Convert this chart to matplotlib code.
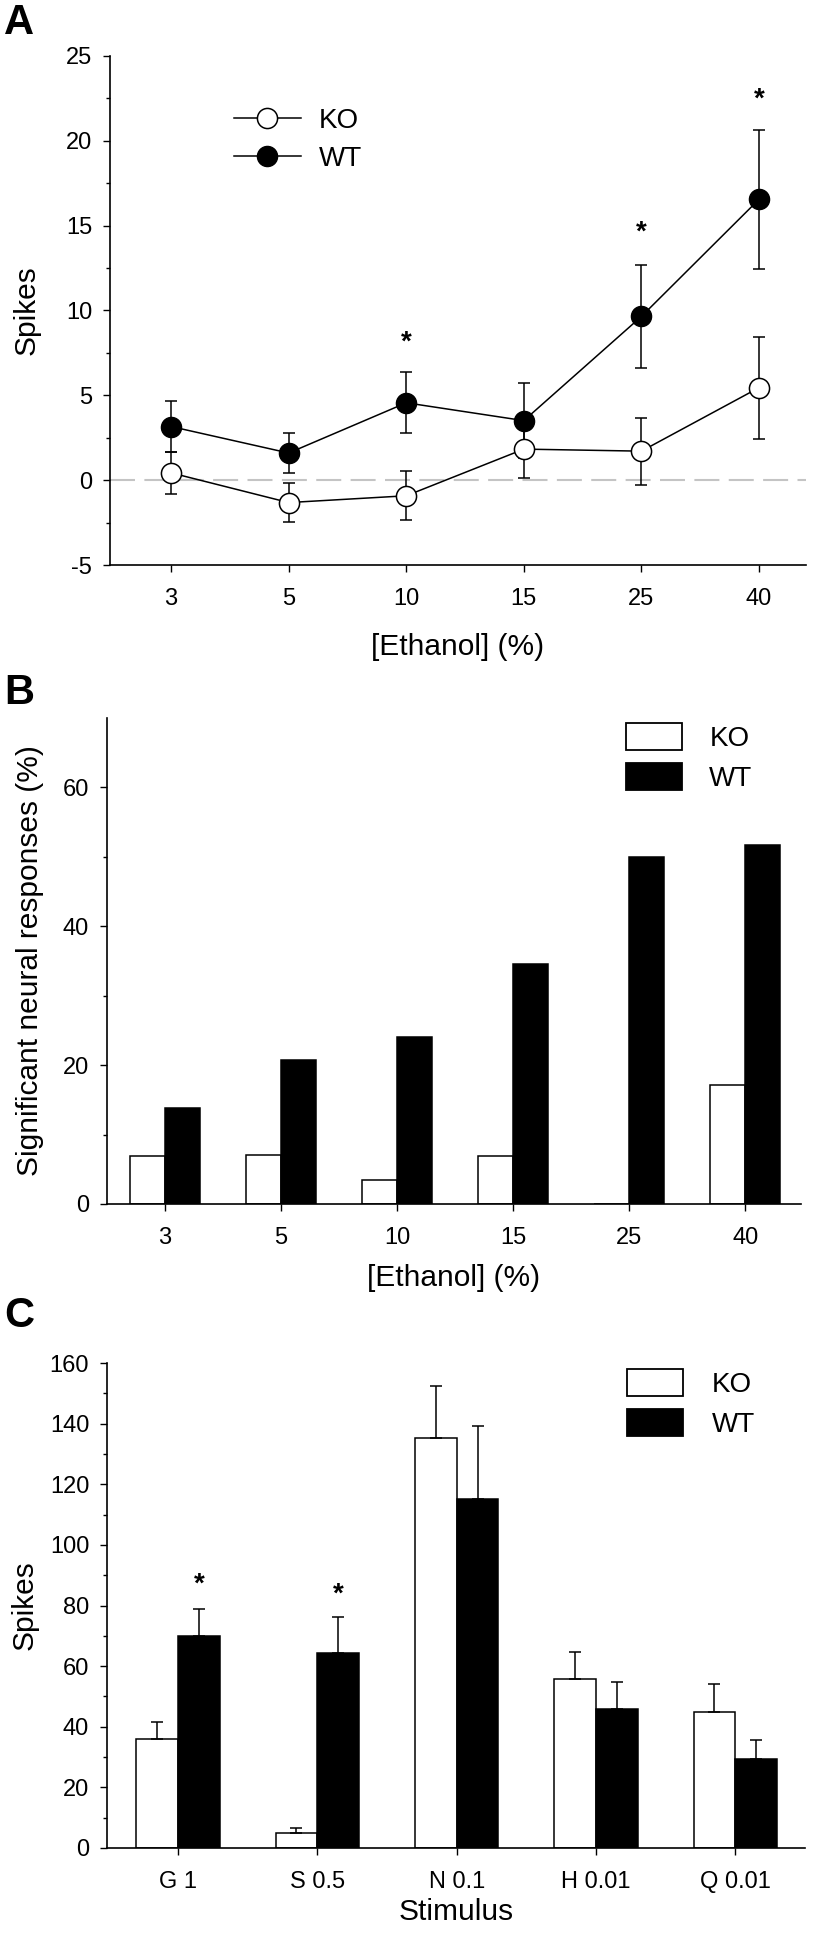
import numpy as np
import matplotlib
matplotlib.use('Agg')
import matplotlib.pyplot as plt
from matplotlib.lines import Line2D
from matplotlib.patches import Patch
from matplotlib.ticker import FixedLocator, MultipleLocator

plt.rcParams['font.family'] = ['Liberation Sans', 'DejaVu Sans']
plt.rcParams['axes.unicode_minus'] = False

# ---------------------------------------------------------------------------
# Data
# ---------------------------------------------------------------------------
ethanol = ['3', '5', '10', '15', '25', '40']

# A: spikes vs ethanol concentration (mean, sem)
wt_spk = [3.16, 1.60, 4.56, 3.51, 9.65, 16.55]
wt_sem = [1.50, 1.20, 1.80, 2.22, 3.05, 4.10]
ko_spk = [0.43, -1.32, -0.92, 1.83, 1.71, 5.45]
ko_sem = [1.24, 1.15, 1.45, 1.70, 1.97, 3.00]
stars_a = {2: 8.1, 4: 14.6, 5: 22.4}

# B: significant neural responses (%)
ko_pct = [6.9, 7.1, 3.4, 6.9, 0.0, 17.2]
wt_pct = [13.8, 20.7, 24.1, 34.5, 50.0, 51.7]

# C: responses to taste stimuli
stimuli = ['G 1', 'S 0.5', 'N 0.1', 'H 0.01', 'Q 0.01']
ko_stim = [36.0, 5.1, 135.3, 55.7, 44.9]
ko_stim_sem = [5.7, 1.6, 17.1, 9.0, 9.1]
wt_stim = [70.0, 64.4, 115.2, 45.7, 29.3]
wt_stim_sem = [8.7, 11.9, 24.0, 9.0, 6.4]
stars_c = {0: 87.0, 1: 83.5}

W, H = 821, 1934
fig = plt.figure(figsize=(W / 100, H / 100), dpi=100)

TICK = 17
LAB = 21.5
LEG = 20
LW = 1.1


def box(left, right, top, bottom):
    return [left / W, 1 - bottom / H, (right - left) / W, (bottom - top) / H]


def fx(px):
    return px / W


def fy(py):
    return 1 - py / H


def style(ax):
    for s in ['top', 'right']:
        ax.spines[s].set_visible(False)
    for s in ['left', 'bottom']:
        ax.spines[s].set_linewidth(1.2)
    ax.tick_params(which='major', direction='out', length=4.8, width=1.0, labelsize=TICK)
    ax.tick_params(axis='x', which='major', pad=11.5)
    ax.tick_params(axis='y', which='major', pad=8)
    ax.tick_params(which='minor', direction='out', length=2.8, width=1.0)
    ax.tick_params(axis='x', which='minor', bottom=False)


def place_labels(ax, left, right, top, bottom, ylab_x, xlab_top):
    w = right - left
    h = bottom - top
    ax.yaxis.set_label_coords((ylab_x - left) / w, 0.5)
    ax.xaxis.set_label_coords(0.5, (bottom - xlab_top) / h)


x = np.arange(1, 7)

# ---------------------------------------------------------------------------
# Panel A
# ---------------------------------------------------------------------------
A = (110, 806, 56, 565)
axA = fig.add_axes(box(*A))
style(axA)
axA.axhline(0, color='#c4c4c4', lw=1.5, ls=(0, (12, 4.5)), zorder=0)
axA.errorbar(x, wt_spk, yerr=wt_sem, fmt='-o', color='black', mfc='black', mec='black',
             ms=14.5, lw=LW, elinewidth=LW, capsize=4.3, capthick=LW, zorder=2)
axA.errorbar(x, ko_spk, yerr=ko_sem, fmt='-o', color='black', mfc='white', mec='black',
             ms=14.5, mew=1.1, lw=LW, elinewidth=LW, capsize=4.3, capthick=LW, zorder=3)
for i, yy in stars_a.items():
    axA.text(x[i], yy, '*', ha='center', va='center', fontsize=20, fontweight='bold')
axA.set_xlim(0.48, 6.4)
axA.set_ylim(-5, 25)
axA.set_xticks(x, ethanol)
axA.yaxis.set_major_locator(MultipleLocator(5))
axA.yaxis.set_minor_locator(MultipleLocator(2.5))
axA.set_ylabel('Spikes', fontsize=LAB)
axA.set_xlabel('[Ethanol] (%)', fontsize=LAB)
place_labels(axA, *A, ylab_x=41, xlab_top=633)
hA = [Line2D([], [], color='black', lw=LW, marker='o', ms=14.5, mfc='white', mec='black', mew=1.1),
      Line2D([], [], color='black', lw=LW, marker='o', ms=14.5, mfc='black', mec='black')]
axA.legend(hA, ['KO', 'WT'], loc='upper left', bbox_to_anchor=(fx(234), fy(108)),
           bbox_transform=fig.transFigure, frameon=False, borderpad=0, borderaxespad=0,
           fontsize=LEG, handlelength=2.41, labelspacing=0.43, handletextpad=0.65)
fig.text(fx(4), fy(34), 'A', fontsize=30, fontweight='bold', va='baseline', ha='left')

# ---------------------------------------------------------------------------
# Panel B
# ---------------------------------------------------------------------------
bw = 0.3
B = (107, 801, 718, 1204)
axB = fig.add_axes(box(*B))
style(axB)
axB.bar(x - bw / 2, ko_pct, bw, color='white', edgecolor='black', lw=LW)
axB.bar(x + bw / 2, wt_pct, bw, color='black', edgecolor='black', lw=LW)
axB.set_xlim(0.5, 6.48)
axB.set_ylim(0, 70)
axB.set_xticks(x, ethanol)
axB.set_yticks([0, 20, 40, 60])
axB.yaxis.set_minor_locator(FixedLocator([10, 30, 50]))
axB.set_ylabel('Significant neural responses (%)', fontsize=LAB)
axB.set_xlabel('[Ethanol] (%)', fontsize=LAB)
place_labels(axB, *B, ylab_x=44, xlab_top=1264)
hB = [Patch(facecolor='white', edgecolor='black', lw=1.3),
      Patch(facecolor='black', edgecolor='black', lw=1.3)]
axB.legend(hB, ['KO', 'WT'], loc='upper left', bbox_to_anchor=(fx(626), fy(723)),
           bbox_transform=fig.transFigure, frameon=False, borderpad=0, borderaxespad=0,
           fontsize=LEG, handlelength=2.0, handleheight=1.12, labelspacing=0.4,
           handletextpad=1.0)
fig.text(fx(4), fy(704), 'B', fontsize=30, fontweight='bold', va='baseline', ha='left')

# ---------------------------------------------------------------------------
# Panel C
# ---------------------------------------------------------------------------
xc = np.arange(1, 6)
C = (107, 805, 1363, 1848)
axC = fig.add_axes(box(*C))
style(axC)
axC.bar(xc - bw / 2, ko_stim, bw, color='white', edgecolor='black', lw=LW)
axC.bar(xc + bw / 2, wt_stim, bw, color='black', edgecolor='black', lw=LW)
axC.errorbar(xc - bw / 2, ko_stim, yerr=[np.zeros(5), ko_stim_sem], fmt='none',
             ecolor='black', elinewidth=LW, capsize=4, capthick=LW)
axC.errorbar(xc + bw / 2, wt_stim, yerr=[np.zeros(5), wt_stim_sem], fmt='none',
             ecolor='black', elinewidth=LW, capsize=4, capthick=LW)
for i, yy in stars_c.items():
    axC.text(xc[i] + bw / 2, yy, '*', ha='center', va='center', fontsize=20, fontweight='bold')
axC.set_xlim(0.49, 5.5)
axC.set_ylim(0, 160)
axC.set_xticks(xc, stimuli)
axC.yaxis.set_major_locator(MultipleLocator(20))
axC.yaxis.set_minor_locator(MultipleLocator(10))
axC.set_ylabel('Spikes', fontsize=LAB)
axC.set_xlabel('Stimulus', fontsize=LAB)
place_labels(axC, *C, ylab_x=39, xlab_top=1898)
axC.legend(hB, ['KO', 'WT'], loc='upper left', bbox_to_anchor=(fx(627), fy(1369)),
           bbox_transform=fig.transFigure, frameon=False, borderpad=0, borderaxespad=0,
           fontsize=LEG, handlelength=2.0, handleheight=1.12, labelspacing=0.4,
           handletextpad=1.05)
fig.text(fx(4), fy(1327), 'C', fontsize=30, fontweight='bold', va='baseline', ha='left')

fig.savefig('out.png', dpi=100)
